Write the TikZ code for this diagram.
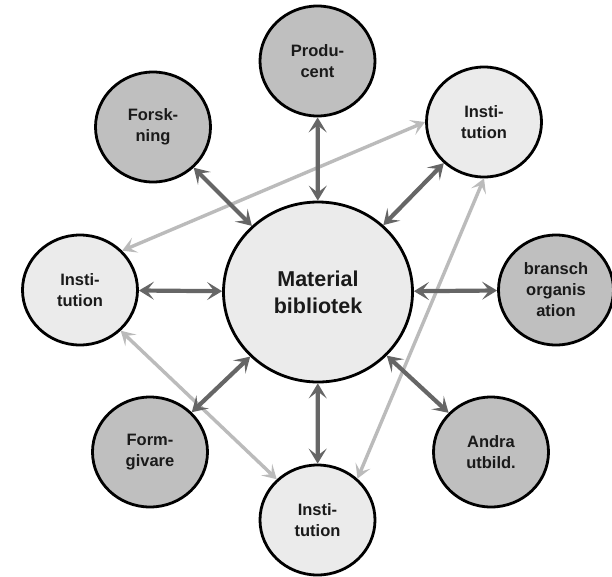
\documentclass[tikz,border=0pt]{standalone}
\usepackage{fontspec}
\setmainfont{Liberation Sans}
\usetikzlibrary{shapes.geometric,arrows.meta}
\definecolor{satdark}{HTML}{BFBFBF}
\definecolor{satlight}{HTML}{EBEBEB}
\definecolor{arrdark}{HTML}{666666}
\definecolor{arrlight}{HTML}{BBBBBB}
\definecolor{txt}{HTML}{1A1A1A}
\begin{document}
\begin{tikzpicture}[x=1pt,y=-1pt,
  bubble/.style={ellipse, draw=black, line width=2.8pt, minimum width=115pt,
    minimum height=110pt, inner sep=0pt, align=center, text=txt,
    font=\fontsize{16.5}{21}\selectfont\bfseries},
  darkbubble/.style={bubble, fill=satdark},
  lightbubble/.style={bubble, fill=satlight},
  hub/.style={bubble, fill=satlight, minimum width=189pt, minimum height=180pt,
    font=\fontsize{21.5}{27}\selectfont\bfseries},
  link/.style={draw=arrdark, line width=4.2pt,
    {Stealth[length=15pt,width=18pt,inset=7pt]}-{Stealth[length=15pt,width=18pt,inset=7pt]}},
  crosslink/.style={draw=arrlight, line width=3.4pt,
    {Stealth[length=14pt,width=16pt,inset=6.5pt]}-{Stealth[length=14pt,width=16pt,inset=6.5pt]}}
]
\useasboundingbox (0,0) rectangle (612,576);
\fill[white] (0,0) rectangle (612,576);

\node[hub] (mat) at (318,292) {Material\\bibliotek};
\node[darkbubble] (prod) at (317.5,61) {Produ-\\cent};
\node[darkbubble] (forsk) at (153,127) {Forsk-\\ning};
\node[lightbubble] (instTR) at (484,122) {Insti-\\tution};
\node[lightbubble] (instL) at (80,290) {Insti-\\tution};
\node[darkbubble] (bransch) at (556,290) {bransch\\organis\\ation};
\node[darkbubble] (form) at (150,452) {Form-\\givare};
\node[darkbubble] (andra) at (491,452) {Andra\\utbild.};
\node[lightbubble] (instB) at (317.5,520) {Insti-\\tution};

\draw[crosslink] (instL.43) -- (instTR.180);
\draw[crosslink] (instL.-45) -- (instB.135);
\draw[crosslink] (instB.46) -- (instTR.-90);

\draw[link] (mat) -- (prod);
\draw[link] (mat) -- (forsk);
\draw[link] (mat) -- (instTR);
\draw[link] (mat) -- (instL);
\draw[link] (mat) -- (bransch);
\draw[link] (mat) -- (form);
\draw[link] (mat) -- (andra);
\draw[link] (mat) -- (instB);
\end{tikzpicture}
\end{document}
